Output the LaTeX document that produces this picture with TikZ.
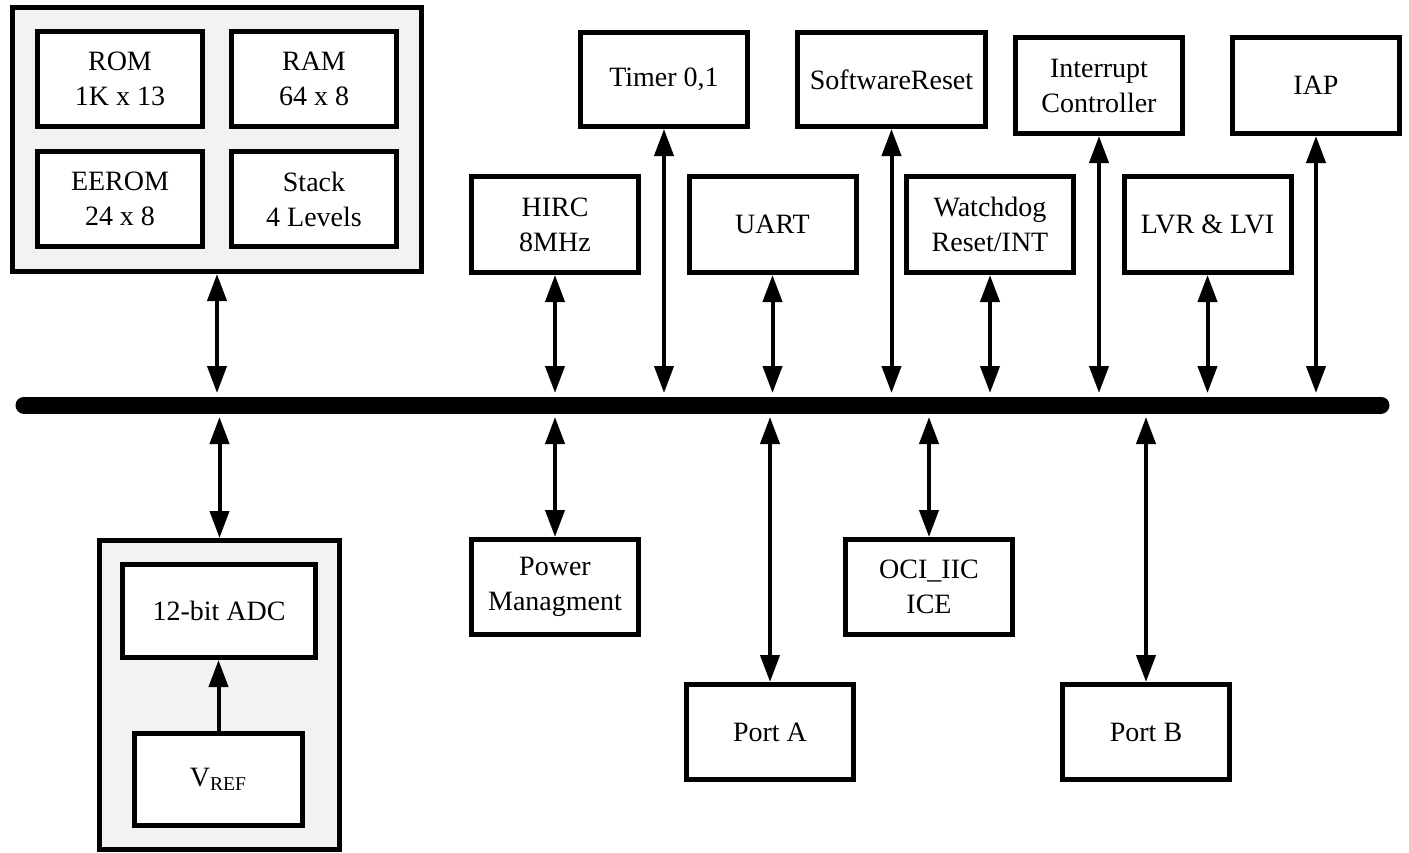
\documentclass[tikz,border=0pt]{standalone}
\usepackage{fontspec}
\setmainfont{Liberation Serif}
\usetikzlibrary{arrows.meta, positioning, calc}

\begin{document}
\begin{tikzpicture}[
    x=0.5pt, y=-0.5pt,
    >={Triangle[length=13.5pt, width=9.5pt]},
    font=\fontsize{14}{17.5}\selectfont
]
    \tikzset{
        bloque/.style={draw, line width=2.5pt, fill=white, align=center, inner sep=2pt,
                       minimum width=83.5pt, minimum height=47.5pt},
        grupo/.style={draw, line width=2.5pt, fill=black!5},
        flecha/.style={<->, line width=2pt},
        bus/.style={line width=8.5pt, line cap=round}
    }
    \useasboundingbox (0,0) rectangle (1409,852);

    % Grupos
    \node[grupo, minimum width=204.5pt, minimum height=132pt]   (mem)    at (217,139.5) {};
    \node[grupo, minimum width=120pt, minimum height=154.5pt]   (adcgrp) at (219.5,695) {};

    % Bloques
    \node[bloque, minimum width=82.5pt] (rom)   at (120,79)  {ROM\\1K x 13};
    \node[bloque, minimum width=82.5pt] (ram)   at (314,79)  {RAM\\64 x 8};
    \node[bloque, minimum width=82.5pt] (eerom) at (120,199) {EEROM\\24 x 8};
    \node[bloque, minimum width=82.5pt] (stack) at (314,199) {Stack\\4 Levels};

    \node[bloque, minimum height=47pt]                     (timer)   at (664,79.5)   {Timer 0,1};
    \node[bloque, minimum width=94pt, minimum height=47pt] (swreset) at (891.5,79.5) {SoftwareReset};
    \node[bloque, minimum height=48pt]                     (intc)    at (1099,85.5)  {Interrupt\\Controller};
    \node[bloque, minimum height=48pt]                     (iap)     at (1316,85.5)  {IAP};

    \node[bloque, minimum height=48pt] (hirc) at (555,224.5)    {HIRC\\8MHz};
    \node[bloque, minimum height=48pt] (uart) at (772.5,224.5)  {UART};
    \node[bloque, minimum height=48pt] (wdt)  at (990,224.5)    {Watchdog\\Reset/INT};
    \node[bloque, minimum height=48pt] (lvr)  at (1207.5,224.5) {LVR \& LVI};

    \node[bloque] (power) at (555,587)  {Power\\Managment};
    \node[bloque] (oci)   at (929,587)  {OCI\_IIC\\ICE};
    \node[bloque] (porta) at (770,732)  {Port A};
    \node[bloque] (portb) at (1146,732) {Port B};

    \node[bloque, minimum width=96.5pt, minimum height=46.5pt] (adc)  at (219,611)    {12-bit ADC};
    \node[bloque, minimum width=84pt, minimum height=46pt]     (vref) at (218.5,779.5) {V\textsubscript{REF}};

    % Bus
    \coordinate (busL) at (24,405);
    \coordinate (busR) at (1381,405);
    \coordinate (busN) at (0,393);
    \coordinate (busS) at (0,417);
    \draw[bus] (busL) -- (busR);

    % Flechas
    \draw[flecha] (mem.south)     -- (mem.south |- busN);
    \draw[flecha] (hirc.south)    -- (hirc.south |- busN);
    \draw[flecha] (timer.south)   -- (timer.south |- busN);
    \draw[flecha] (uart.south)    -- (uart.south |- busN);
    \draw[flecha] (swreset.south) -- (swreset.south |- busN);
    \draw[flecha] (wdt.south)     -- (wdt.south |- busN);
    \draw[flecha] (intc.south)    -- (intc.south |- busN);
    \draw[flecha] (lvr.south)     -- (lvr.south |- busN);
    \draw[flecha] (iap.south)     -- (iap.south |- busN);

    \draw[flecha] (adcgrp.north |- busS) -- (adcgrp.north);
    \draw[flecha] (power.north |- busS)  -- (power.north);
    \draw[flecha] (porta.north |- busS)  -- (porta.north);
    \draw[flecha] (oci.north |- busS)    -- (oci.north);
    \draw[flecha] (portb.north |- busS)  -- (portb.north);

    \draw[->, line width=2pt] (vref.north) -- (vref.north |- adc.south);
\end{tikzpicture}
\end{document}
